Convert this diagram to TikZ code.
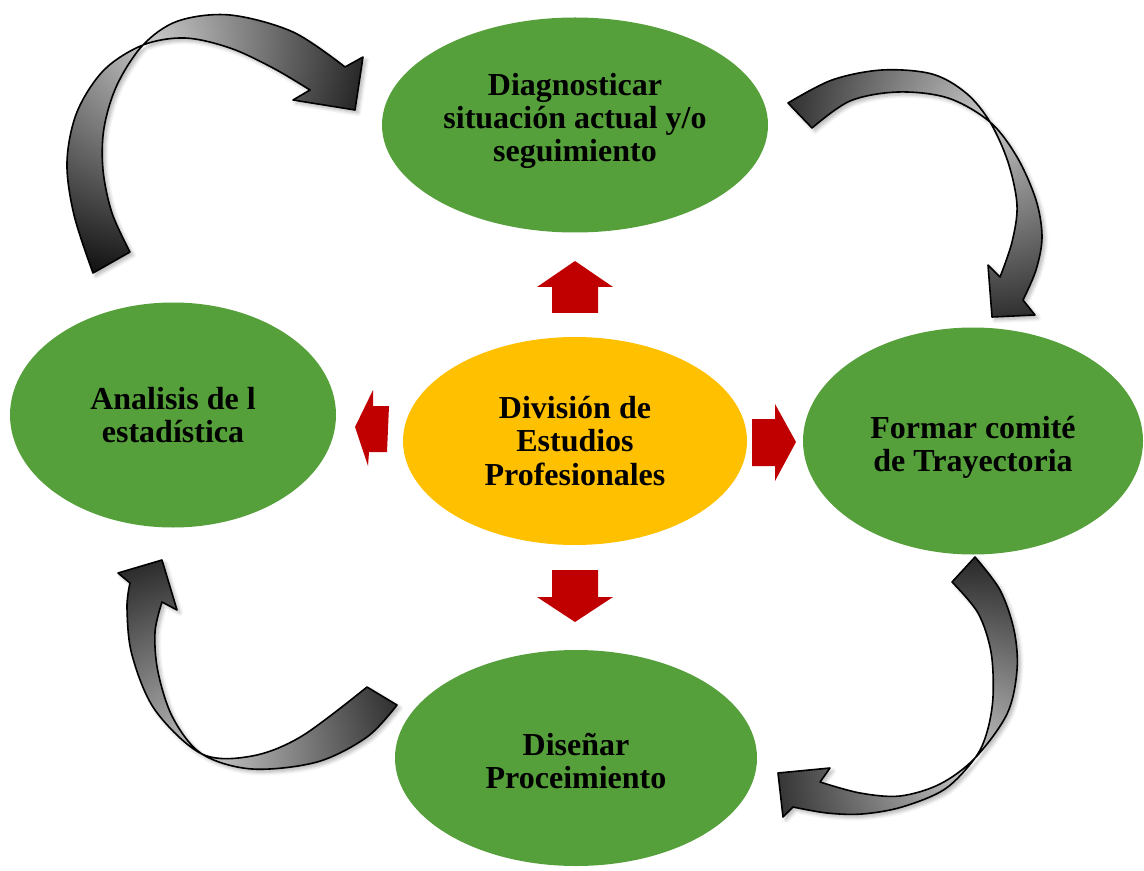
\documentclass[tikz,border=0pt]{standalone}
\usepackage{fontspec}
\setmainfont{Liberation Serif}
\usetikzlibrary{shapes.geometric,shadows.blur}
\definecolor{leaf}{HTML}{56A03B}
\definecolor{gold}{HTML}{FFC000}
\definecolor{brick}{HTML}{C00000}
\definecolor{twlight}{HTML}{C8C8C8}
\definecolor{twdark}{HTML}{080808}
\begin{document}
\begin{tikzpicture}[x=0.5pt,y=-0.5pt,
  bubble/.style={ellipse, inner sep=0pt},
  greenbubble/.style={bubble, fill=leaf},
  caption/.style={inner sep=0pt, align=center,
    font=\bfseries\fontsize{16}{16.6}\selectfont},
  redarrow/.style={fill=brick},
  twist/.style={draw=black, line width=0.8pt, line join=round,
    blur shadow={shadow xshift=1.5pt, shadow yshift=-1.5pt, shadow blur steps=6, shadow opacity=30},
    path picture={\shade[inner color=twlight, outer color=twdark] (#1) circle[radius=125pt];}}
]
\useasboundingbox (0,0) rectangle (1144,871);

% ellipses
\node[greenbubble, minimum width=193pt, minimum height=107.5pt] (diag) at (575,125) {};
\node[caption] (diagtxt) at ([yshift=2pt]diag.center) {Diagnosticar\\situación actual y/o\\seguimiento};
\node[greenbubble, minimum width=163pt, minimum height=112.5pt] (anal) at (173,415) {};
\node[caption] (analtxt) at (anal.center) {Analisis de l\\estadística};
\node[bubble, fill=gold, minimum width=172pt, minimum height=104pt] (div) at (575,441) {};
\node[caption] (divtxt) at (div.center) {División de\\Estudios\\Profesionales};
\node[greenbubble, minimum width=170pt, minimum height=113.5pt] (form) at (973,441) {};
\node[caption] (formtxt) at ([yshift=-3pt]form.center) {Formar comité\\de Trayectoria};
\node[greenbubble, minimum width=181pt, minimum height=108pt] (dise) at (576,758) {};
\node[caption] (disetxt) at ([yshift=-1.5pt]dise.center) {Diseñar\\Proceimiento};

% red block arrows
\fill[redarrow] (575,261) -- (613,287) -- (598,287) -- (598,313) -- (552,313) -- (552,287) -- (537,287) -- cycle;
\fill[redarrow] (552,570) -- (598,570) -- (598,597) -- (613,597) -- (575,622) -- (537,597) -- (552,597) -- cycle;
\fill[redarrow] (752,419) -- (775,419) -- (775,404) -- (796,442) -- (775,481) -- (775,466) -- (752,466) -- cycle;
\fill[redarrow] (355,427) -- (373,390) -- (373,406) -- (389,406) -- (387,452) -- (369,452) -- (368,466) -- cycle;

% twisted curved arrows
% top-left
\draw[twist={155,42}] (93,273)
  -- plot[smooth, tension=0.55] coordinates {(93,273) (74,215) (67,162) (77,112) (104,70) (143,45) (185,38) (230,48) (273,68) (310,90)}
  -- (293,100) -- (355,110) -- (363,57) -- (345,67)
  -- plot[smooth, tension=0.55] coordinates {(345,67) (293,32) (230,15) (178,21) (143,45) (117,85) (104,128) (103,170) (112,213) (130,252)}
  -- cycle;
% top-right
\draw[twist={985,120}] (788,103)
  -- plot[smooth, tension=0.55] coordinates {(788,103) (832,80) (882,70) (932,74) (966,93) (990,122) (1008,162) (1017,205) (1012,242) (1000,277)}
  -- (988,265) -- (992,317) -- (1035,315) -- (1023,300)
  -- plot[smooth, tension=0.55] coordinates {(1023,300) (1036,270) (1042,237) (1036,200) (1017,157) (990,122) (948,98) (898,92) (850,101) (812,128)}
  -- cycle;
% bottom-right
\draw[twist={968,765}] (975,557)
  -- plot[smooth, tension=0.55] coordinates {(975,557) (1000,590) (1014,630) (1017,670) (1007,714) (975,758) (940,784) (900,796) (860,793) (820,782)}
  -- (830,768) -- (778,773) -- (783,817) -- (793,807)
  -- plot[smooth, tension=0.55] coordinates {(793,807) (827,813) (862,814) (902,807) (945,789) (975,758) (987,732) (993,697) (991,652) (978,613) (952,582)}
  -- cycle;
% bottom-left
\draw[twist={205,758}] (397,705)
  -- plot[smooth, tension=0.55] coordinates {(397,705) (367,737) (317,762) (252,769) (202,754) (173,718) (158,672) (155,632) (162,602)}
  -- (177,610) -- (162,560) -- (118,573) -- (130,583)
  -- plot[smooth, tension=0.55] coordinates {(130,583) (127,608) (132,655) (155,710) (202,754) (252,756) (302,736) (367,687)}
  -- cycle;
\end{tikzpicture}
\end{document}
